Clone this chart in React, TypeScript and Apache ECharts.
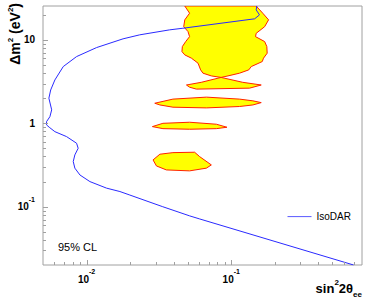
import React, { useEffect, useRef } from 'react';
import * as echarts from 'echarts';

const FONT = '"Liberation Sans", Arial, Helvetica, sans-serif';

const xRange = [0.005, 0.8];
const yRange = [0.02, 25.5];

// IsoDAR 95% CL sensitivity curve [sin^2 2theta, dm^2]
const isoDarCurve: number[][] = [
  [0.150, 25.5], [0.1486, 22.9], [0.1566, 19.95], [0.145, 17.9], [0.0463, 13.8],
  [0.0375, 13.2], [0.0233, 11.5], [0.01787, 10.3], [0.01172, 8.09], [0.00853, 6.31],
  [0.0069, 4.79], [0.00604, 3.31], [0.00565, 2.51], [0.00549, 2.0], [0.00574, 1.45],
  [0.00558, 1.2], [0.00529, 1.047], [0.00529, 0.957], [0.00552, 0.897], [0.00604, 0.794],
  [0.00727, 0.693], [0.00853, 0.577], [0.00875, 0.502], [0.0083, 0.418], [0.00809, 0.348],
  [0.0083, 0.29], [0.009, 0.24], [0.01055, 0.2], [0.01374, 0.167], [0.017, 0.152],
  [0.0199, 0.138], [0.0336, 0.1], [0.0516, 0.0776], [0.0605, 0.0713], [0.7, 0.02],
];

// Allowed regions (yellow, red outline)
const regionTop: number[][] = [
  [0.0477, 25.5], [0.0515, 20.9], [0.0477, 17.4], [0.0469, 14.4], [0.0502, 12.6],
  [0.0515, 10.95], [0.0484, 9.55], [0.0459, 8.32], [0.0456, 7.24], [0.0477, 6.61],
  [0.053, 6.04], [0.0589, 5.26], [0.0614, 4.37], [0.0637, 3.99], [0.0728, 3.7],
  [0.085, 3.55],
  [0.0948, 3.7], [0.114, 3.99], [0.132, 4.37], [0.1374, 4.79], [0.1637, 5.5],
  [0.167, 6.04], [0.177, 6.93], [0.176, 8.32], [0.17, 9.55], [0.147, 10.95],
  [0.1486, 12.0], [0.17, 14.4], [0.181, 17.4], [0.165, 20.9], [0.1486, 25.5],
];
const regionLobe: number[][] = [
  [0.085, 3.55], [0.12, 3.1], [0.161, 2.88], [0.1337, 2.64], [0.0574, 2.57], [0.0515, 2.71],
  [0.049, 2.88], [0.062, 3.1],
];
const regionBand1: number[][] = [
  [0.0296, 1.74], [0.0395, 1.95], [0.0673, 2.06], [0.114, 1.95], [0.141, 1.86], [0.161, 1.77],
  [0.141, 1.66], [0.114, 1.59], [0.0673, 1.53], [0.0395, 1.56], [0.0321, 1.66],
];
const regionBand2: number[][] = [
  [0.0285, 0.913], [0.0337, 1.0], [0.0515, 1.03], [0.0789, 0.975], [0.0933, 0.897],
  [0.0789, 0.863], [0.0515, 0.849], [0.0337, 0.863],
];
const regionBlob: number[][] = [
  [0.0288, 0.364], [0.0321, 0.426], [0.0395, 0.445], [0.0558, 0.45], [0.0604, 0.399],
  [0.0728, 0.317], [0.0673, 0.29], [0.0515, 0.269], [0.0356, 0.276], [0.0304, 0.308],
];

const xMajorTicks = [0.01, 0.1];
const xMinorTicks = [0.006, 0.007, 0.008, 0.009, 0.02, 0.03, 0.04, 0.05, 0.06, 0.07, 0.08, 0.09,
  0.2, 0.3, 0.4, 0.5, 0.6, 0.7];
const yMajorTicks = [0.1, 1, 10];
const yMinorTicks = [0.03, 0.04, 0.05, 0.06, 0.07, 0.08, 0.09, 0.2, 0.3, 0.4, 0.5, 0.6, 0.7,
  0.8, 0.9, 2, 3, 4, 5, 6, 7, 8, 9, 20];
const labelExponents = [-2, -1, 0, 1];

const AXIS_GRAY = '#a0a0a0';

function powLabel(v: number): string {
  const l = Math.log10(v);
  const e = Math.round(l);
  if (Math.abs(l - e) > 1e-6 || labelExponents.indexOf(e) < 0) return '';
  if (e === 0) return '{b|1}';
  if (e === 1) return '{b|10}';
  return `{b|10}{s|${e}}`;
}

const labelRich = {
  b: { fontSize: 10, fontWeight: 'bold', lineHeight: 22, fontFamily: FONT, color: '#000' },
  s: { fontSize: 7, fontWeight: 'bold', lineHeight: 6, verticalAlign: 'top', fontFamily: FONT, color: '#000' },
};

function regionSeries(points: number[][]) {
  return {
    type: 'custom',
    coordinateSystem: 'cartesian2d',
    clip: true,
    silent: true,
    data: points,
    encode: { x: 0, y: 1 },
    z: 2,
    renderItem: (params: any, api: any) => {
      if (params.dataIndex !== 0) return null;
      const pts = points.map((p) => api.coord(p));
      return {
        type: 'polygon',
        shape: { points: pts },
        style: { fill: '#ffff00', stroke: '#ff2200', lineWidth: 1 },
      };
    },
  };
}

function tickSeries(data: number[][], vertical: boolean) {
  return {
    type: 'custom',
    coordinateSystem: 'cartesian2d',
    clip: false,
    silent: true,
    data,
    encode: { x: 0, y: 1 },
    z: 5,
    renderItem: (params: any, api: any) => {
      const p = api.coord([api.value(0), api.value(1)]);
      const len = api.value(2);
      if (vertical) {
        const x = Math.round(p[0]) + 0.5;
        return { type: 'line', shape: { x1: x, y1: p[1], x2: x, y2: p[1] - len }, style: { stroke: AXIS_GRAY, lineWidth: 1 } };
      }
      const y = Math.round(p[1]) + 0.5;
      return { type: 'line', shape: { x1: p[0], y1: y, x2: p[0] + len, y2: y }, style: { stroke: AXIS_GRAY, lineWidth: 1 } };
    },
  };
}

export default function App() {
  const ref = useRef<HTMLDivElement>(null);
  useEffect(() => {
    document.body.style.margin = '0';
    if (!ref.current) return;
    const chart = echarts.init(ref.current, null, { renderer: 'svg' });
    const xTickData = [
      ...xMajorTicks.map((v) => [v, yRange[0], 5]),
      ...xMinorTicks.map((v) => [v, yRange[0], 3]),
    ];
    const yTickData = [
      ...yMajorTicks.map((v) => [xRange[0], v, 5]),
      ...yMinorTicks.map((v) => [xRange[0], v, 3]),
    ];
    chart.setOption({
      animation: false,
      backgroundColor: '#fff',
      grid: {
        left: 43, right: 12, top: 6, bottom: 37,
        show: true, borderColor: AXIS_GRAY, borderWidth: 1, backgroundColor: 'transparent',
      },
      xAxis: {
        type: 'log', logBase: 10, min: xRange[0], max: xRange[1],
        axisLine: { show: false }, axisTick: { show: false }, splitLine: { show: false },
        axisLabel: { formatter: powLabel, margin: 3, rich: labelRich, color: '#000' },
      },
      yAxis: {
        type: 'log', logBase: 10, min: yRange[0], max: yRange[1],
        axisLine: { show: false }, axisTick: { show: false }, splitLine: { show: false },
        axisLabel: { formatter: powLabel, margin: 8, rich: labelRich, color: '#000' },
      },
      legend: {
        data: ['IsoDAR'], left: 282, top: 206, itemWidth: 24, itemHeight: 14,
        itemStyle: { opacity: 0, borderWidth: 0 },
        lineStyle: { color: '#5a5aff', width: 1 },
        textStyle: { fontSize: 10, fontFamily: FONT, color: '#000' },
      },
      series: [
        regionSeries(regionTop),
        regionSeries(regionLobe),
        regionSeries(regionBand1),
        regionSeries(regionBand2),
        regionSeries(regionBlob),
        {
          name: 'IsoDAR', type: 'line', data: isoDarCurve, symbol: 'none', z: 3,
          lineStyle: { color: '#2a2aff', width: 1 }, itemStyle: { color: '#2a2aff' },
        },
        tickSeries(xTickData, true),
        tickSeries(yTickData, false),
      ],
      graphic: [
        {
          type: 'text', x: 15, y: 3, rotation: Math.PI / 2,
          style: {
            text: '{t|\u0394m}{s|2}{t| (eV}{s|2}{t|)}',
            align: 'right', verticalAlign: 'middle',
            rich: {
              t: { fontSize: 14, fontWeight: 'bold', lineHeight: 18, fontFamily: FONT, fill: '#000' },
              s: { fontSize: 8, fontWeight: 'bold', lineHeight: 6, verticalAlign: 'top', fontFamily: FONT, fill: '#000' },
            },
          },
        },
        {
          type: 'text', x: 362, y: 288,
          style: {
            text: '{t|sin}{p|2}{t|2\u03b8}{q|ee}',
            align: 'right', verticalAlign: 'middle',
            rich: {
              t: { fontSize: 13, fontWeight: 'bold', lineHeight: 20, fontFamily: FONT, fill: '#000' },
              p: { fontSize: 8, fontWeight: 'bold', lineHeight: 6, verticalAlign: 'top', fontFamily: FONT, fill: '#000' },
              q: { fontSize: 8, fontWeight: 'bold', lineHeight: 10, verticalAlign: 'bottom', fontFamily: FONT, fill: '#000' },
            },
          },
        },
        {
          type: 'text', x: 58, y: 247,
          style: { text: '95% CL', fontSize: 11, fontFamily: FONT, fill: '#000', align: 'left', verticalAlign: 'middle' },
        },
      ],
    });
    return () => chart.dispose();
  }, []);
  return <div ref={ref} style={{ position: 'fixed', left: 0, top: 0, width: 374, height: 302 }} />;
}
